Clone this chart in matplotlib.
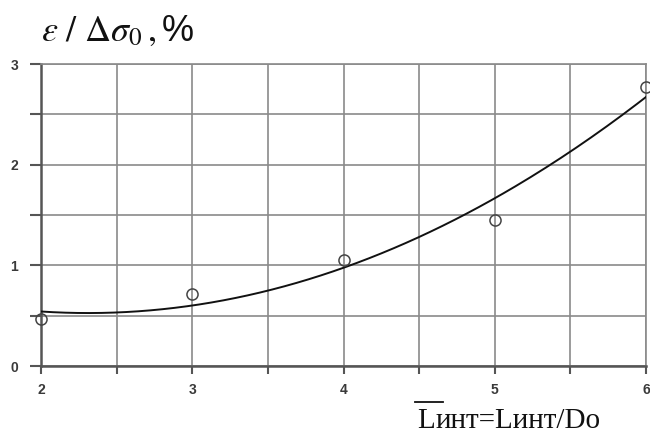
import numpy as np
import matplotlib
matplotlib.use("Agg")
import matplotlib.pyplot as plt
from matplotlib.ticker import MultipleLocator, FixedLocator

# Measured points
l_ratio = [2, 3, 4, 5, 6]
strain = [0.47, 0.72, 1.05, 1.45, 2.77]

x_ticks = [2, 3, 4, 5, 6]
y_ticks = [0, 1, 2, 3]

plt.rcParams['mathtext.fontset'] = 'stix'

fig = plt.figure(figsize=(6.5, 4.33), dpi=100)
ax = fig.add_axes([0.063, 0.1547, 0.931, 0.6973])

grid_c = '#8a8a8a'
ax.set_xlim(2, 6)
ax.set_ylim(0, 3)
ax.xaxis.set_major_locator(FixedLocator(x_ticks))
ax.yaxis.set_major_locator(FixedLocator(y_ticks))
ax.xaxis.set_minor_locator(MultipleLocator(0.5))
ax.yaxis.set_minor_locator(MultipleLocator(0.5))
ax.grid(True, which='both', color=grid_c, lw=1.2)
ax.set_axisbelow(True)

for s in ['top', 'right']:
    ax.spines[s].set_color(grid_c)
    ax.spines[s].set_linewidth(1.2)
for s in ['left', 'bottom']:
    ax.spines[s].set_color('#555555')
    ax.spines[s].set_linewidth(1.8)

ax.tick_params(which='both', direction='out', color='#555555', width=1.5)
ax.tick_params(axis='y', which='both', length=8, pad=8.5)
ax.tick_params(axis='x', which='both', length=6, pad=6.5)
ax.tick_params(labelsize=10, labelcolor='#3a3a3a')
for lbl in ax.get_xticklabels() + ax.get_yticklabels():
    lbl.set_family('Liberation Sans')
    lbl.set_fontweight('bold')

# Quadratic trend line fitted through the points
coef = np.polyfit(l_ratio, strain, 2)
xs = np.linspace(2, 6, 200)
ax.plot(xs, np.polyval(coef, xs), color='#111111', lw=1.4, zorder=3)

ax.plot(l_ratio, strain, 'o', ms=8, mfc='none', mec='#444444', mew=1.1,
        clip_on=False, zorder=4)

fig.text(0.063, 0.905, r'$\varepsilon\ /\ \Delta\sigma_{0}\,,$%', fontsize=26,
         family='Liberation Sans', color='#111111')

# x-axis label with an overline on the first letter
lab_x, lab_y = 0.642, 0.011
first = fig.text(lab_x, lab_y, 'L', fontsize=21, family='Liberation Serif',
                 color='#111111', va='baseline')
fig.canvas.draw()
bb = first.get_window_extent().transformed(fig.transFigure.inverted())
fig.text(bb.x1, lab_y, 'инт=Lинт/Do', fontsize=21, family='Liberation Serif',
         color='#111111', va='baseline')
fig.add_artist(plt.Line2D([bb.x0 - 0.003, bb.x1 + 0.012], [0.072, 0.072],
                          transform=fig.transFigure, color='#111111', lw=1.3))

fig.savefig('out.png', dpi=100)
